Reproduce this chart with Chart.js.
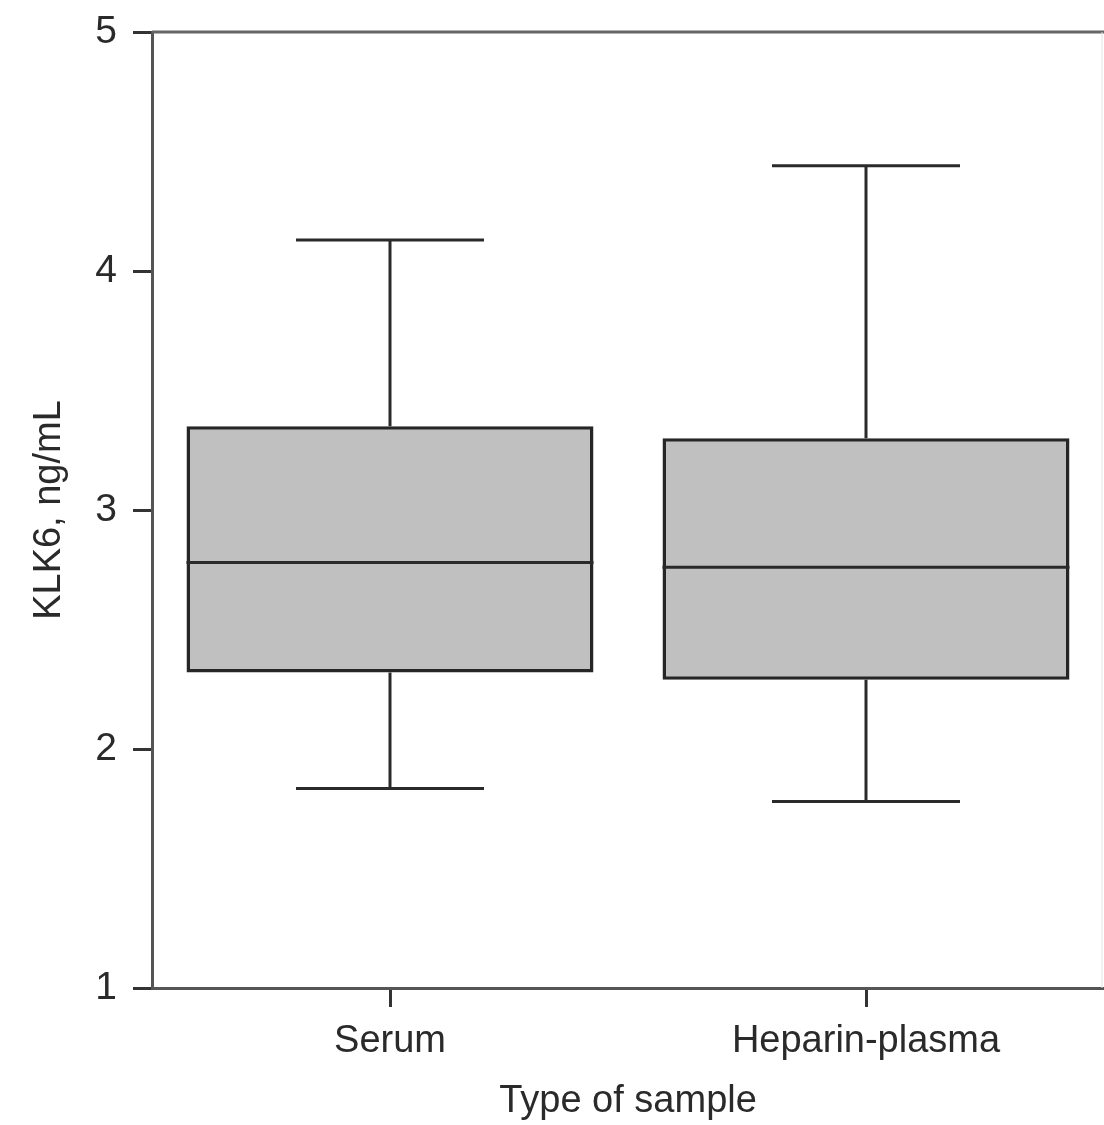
<!DOCTYPE html>
<html>
<head>
<meta charset="utf-8">
<script src="https://cdn.jsdelivr.net/npm/chart.js@4"></script>
<style>
  html, body { margin: 0; padding: 0; background: #fff; }
  #wrap { width: 1104px; height: 1125px; }
</style>
</head>
<body>
<div id="wrap"><canvas id="box-chart"></canvas></div>
<script>
// box plot values
const categories = ['Serum', 'Heparin-plasma'];
const whiskerLow = [1.835, 1.78];
const q1 = [2.32, 2.29];
const median = [2.78, 2.76];
const q3 = [3.35, 3.30];
const whiskerHigh = [4.13, 4.44];
const yTicks = [1, 2, 3, 4, 5];

const boxes = categories.map((c, i) => [q1[i], q3[i]]);
const FONT = 'Liberation Sans, Arial';

// median line, whiskers and caps, drawn via the chart scales
const boxExtras = {
    id: 'boxExtras',
    afterDatasetsDraw(chart) {
        const ctx = chart.ctx;
        const x = chart.scales.x;
        const y = chart.scales.y;
        const meta = chart.getDatasetMeta(0);
        const catW = x.getPixelForValue(1) - x.getPixelForValue(0);
        const capHalf = catW * 0.395 / 2;
        ctx.save();
        ctx.strokeStyle = '#2a2a2a';
        ctx.lineWidth = 3;
        meta.data.forEach((bar, i) => {
            const cx = bar.x;
            const half = bar.width / 2;
            ctx.beginPath();
            ctx.moveTo(cx - half, y.getPixelForValue(median[i]));
            ctx.lineTo(cx + half, y.getPixelForValue(median[i]));
            // upper whisker
            ctx.moveTo(cx, y.getPixelForValue(q3[i]));
            ctx.lineTo(cx, y.getPixelForValue(whiskerHigh[i]));
            ctx.moveTo(cx - capHalf, y.getPixelForValue(whiskerHigh[i]));
            ctx.lineTo(cx + capHalf, y.getPixelForValue(whiskerHigh[i]));
            // lower whisker
            ctx.moveTo(cx, y.getPixelForValue(q1[i]));
            ctx.lineTo(cx, y.getPixelForValue(whiskerLow[i]));
            ctx.moveTo(cx - capHalf, y.getPixelForValue(whiskerLow[i]));
            ctx.lineTo(cx + capHalf, y.getPixelForValue(whiskerLow[i]));
            ctx.stroke();
        });
        ctx.restore();
    },
    beforeDatasetsDraw(chart) {
        // top and right frame lines
        const {ctx, chartArea} = chart;
        ctx.save();
        ctx.strokeStyle = '#666';
        ctx.lineWidth = 3;
        ctx.beginPath();
        ctx.moveTo(chartArea.left, chartArea.top);
        ctx.lineTo(chartArea.right, chartArea.top);
        ctx.stroke();
        ctx.strokeStyle = '#e2e2e2';
        ctx.lineWidth = 1;
        ctx.beginPath();
        ctx.moveTo(chartArea.right - 2, chartArea.top);
        ctx.lineTo(chartArea.right - 2, chartArea.bottom);
        ctx.stroke();
        ctx.restore();
    }
};

const ctx = document.getElementById('box-chart').getContext('2d');
const chart = new Chart(ctx, {
    type: 'bar',
    data: {
        labels: categories,
        datasets: [{
            label: 'KLK6',
            data: boxes,
            backgroundColor: '#c0c0c0',
            borderColor: '#262626',
            borderWidth: 3.5,
            borderSkipped: false,
            categoryPercentage: 1,
            barPercentage: 0.855
        }]
    },
    options: {
        responsive: true,
        maintainAspectRatio: false,
        animation: false,
        layout: { padding: { top: 32, right: 0, bottom: 0, left: 0 } },
        plugins: {
            legend: { display: false },
            tooltip: { enabled: false }
        },
        scales: {
            y: {
                min: 1,
                max: 5,
                afterFit: s => { s.width = 152; s.paddingTop = 0; s.paddingBottom = 0; },
                afterBuildTicks: s => { s.ticks = yTicks.map(v => ({ value: v })); },
                ticks: {
                    padding: 16,
                    color: '#2a2a2a',
                    font: { family: FONT, size: 39 }
                },
                grid: {
                    drawOnChartArea: false,
                    tickLength: 19,
                    tickWidth: 3,
                    tickColor: '#333'
                },
                border: { color: '#555', width: 3 },
                title: {
                    display: true,
                    text: 'KLK6, ng/mL',
                    color: '#2a2a2a',
                    padding: { top: 27, bottom: 0 },
                    font: { family: FONT, size: 38 }
                }
            },
            x: {
                afterFit: s => { s.height = 137; s.paddingLeft = 0; s.paddingRight = 0; },
                ticks: {
                    padding: 12,
                    color: '#2a2a2a',
                    font: { family: FONT, size: 38 }
                },
                grid: {
                    offset: false,
                    drawOnChartArea: false,
                    tickLength: 19,
                    tickWidth: 3,
                    tickColor: '#333'
                },
                border: { color: '#555', width: 3 },
                title: {
                    display: true,
                    text: 'Type of sample',
                    color: '#2a2a2a',
                    padding: { top: 0, bottom: 1 },
                    font: { family: FONT, size: 38 }
                }
            }
        }
    },
    plugins: [boxExtras]
});
</script>
</body>
</html>
